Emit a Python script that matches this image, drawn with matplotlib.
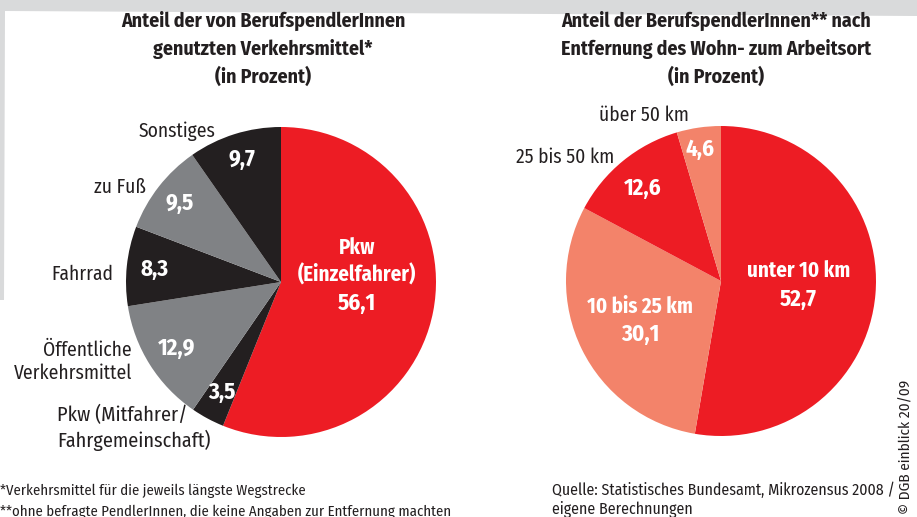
import matplotlib
matplotlib.use("Agg")
import matplotlib.pyplot as plt
import numpy as np
from matplotlib.patches import Polygon

plt.rcParams["font.family"] = ["Fira Sans Condensed", "DejaVu Sans"]

# --- data ---
modes = ["Pkw\n(Einzelfahrer)", "Pkw (Mitfahrer/\nFahrgemeinschaft)", "Öffentliche\nVerkehrsmittel",
         "Fahrrad", "zu Fuß", "Sonstiges"]
mode_share = [56.1, 3.5, 12.9, 8.3, 9.5, 9.7]

distances = ["unter 10 km", "10 bis 25 km", "25 bis 50 km", "über 50 km"]
dist_share = [52.7, 30.1, 12.6, 4.6]

RED = "#ed1c24"
DARK = "#231f20"
GREY = "#808285"
SALMON = "#f3836a"
BAND = "#d9dadb"

W, H = 917, 517
fig = plt.figure(figsize=(W / 100, H / 100), dpi=100)
fig.patch.set_facecolor("white")


def px(x, y):
    return x / W, 1 - y / H


# background band at the top and faded strip on the left
bg = fig.add_axes([0, 0, 1, 1], zorder=-1)
bg.set_xlim(0, W)
bg.set_ylim(H, 0)
bg.axis("off")
bg.add_patch(Polygon([(0, 0), (W, 0), (W, 16), (5, 11), (4, 300), (0, 300)],
                     closed=True, facecolor=BAND, edgecolor="none"))


def fmt(v):
    return f"{v:.1f}".replace(".", ",")


def make_pie(cx, cy, r, values, colors):
    ax = fig.add_axes([(cx - r) / W, (H - cy - r) / H, 2 * r / W, 2 * r / H])
    wedges, _ = ax.pie(values, colors=colors, startangle=90, counterclock=False,
                       radius=1, wedgeprops=dict(linewidth=0))
    ax.set_xlim(-1, 1)
    ax.set_ylim(-1, 1)
    ax.set_aspect("auto")
    ax.axis("off")
    return ax, wedges


def mid_xy(wedge, rad, dang=0.0):
    a = np.deg2rad((wedge.theta1 + wedge.theta2) / 2 + dang)
    return rad * np.cos(a), rad * np.sin(a)


NUM = dict(color="white", fontsize=16.5, fontweight="bold", ha="center", va="center")
WORD = dict(color="white", fontsize=15, fontweight="bold", ha="center", va="center")


def block(ax, xy, lines, step):
    # stack lines around the anchor, last line is the value
    n = len(lines)
    for i, s in enumerate(lines):
        dy = ((n - 1) / 2 - i) * step
        kw = NUM if i == n - 1 else WORD
        ax.annotate(s, xy, xytext=(0, dy), textcoords="offset pixels", **kw)


# --- left pie: Verkehrsmittel ---
ax1, w1 = make_pie(281, 282, 155, mode_share, [RED, DARK, GREY, DARK, GREY, DARK])
block(ax1, mid_xy(w1[0], 0.49, 16), modes[0].split("\n") + [fmt(mode_share[0])], 27.5)
for w, v, rad in zip(w1[1:], mode_share[1:], [0.81, 0.80, 0.82, 0.83, 0.83]):
    ax1.text(*mid_xy(w, rad), fmt(v), **NUM)

lab_kw = dict(color=DARK, fontsize=14, va="center")
fig.text(*px(177, 131), modes[5], ha="center", **lab_kw)
fig.text(*px(120, 187), modes[4], ha="center", **lab_kw)
fig.text(*px(113, 274), modes[3], ha="right", **lab_kw)
fig.text(*px(132, 362), modes[2], ha="right", linespacing=1.25, **lab_kw)
fig.text(*px(57, 428), modes[1], ha="left", linespacing=1.25, fontsize=14.5,
         color=DARK, va="center")

# --- right pie: Entfernung ---
ax2, w2 = make_pie(721, 281, 155, dist_share, [RED, SALMON, RED, SALMON])
block(ax2, mid_xy(w2[0], 0.50, 2), [distances[0], fmt(dist_share[0])], 29)
block(ax2, mid_xy(w2[1], 0.58), [distances[1], fmt(dist_share[1])], 27)
ax2.text(*mid_xy(w2[2], 0.78, 1), fmt(dist_share[2]), **NUM)
ax2.text(*mid_xy(w2[3], 0.86, 1), fmt(dist_share[3]), **NUM)

fig.text(*px(644, 115), distances[3], ha="center", **lab_kw)
fig.text(*px(565, 157), distances[2], ha="center", **lab_kw)

# --- titles ---
title_kw = dict(color=DARK, fontsize=14.3, fontweight="bold", ha="center", va="center",
                linespacing=1.5)
fig.text(*px(263, 49), "Anteil der von BerufspendlerInnen\ngenutzten Verkehrsmittel*\n(in Prozent)",
         **title_kw)
fig.text(*px(716, 49), "Anteil der BerufspendlerInnen** nach\nEntfernung des Wohn- zum Arbeitsort\n(in Prozent)",
         **title_kw)

# --- footnotes ---
fig.text(*px(0, 491), "*Verkehrsmittel für die jeweils längste Wegstrecke",
         color=DARK, fontsize=10.6, ha="left", va="center")
fig.text(*px(0, 512), "**ohne befragte PendlerInnen, die keine Angaben zur Entfernung machten",
         color=DARK, fontsize=10.6, ha="left", va="center")
fig.text(*px(552, 490), "Quelle: Statistisches Bundesamt, Mikrozensus 2008 /",
         color=DARK, fontsize=11.4, ha="left", va="center")
fig.text(*px(552, 509), "eigene Berechnungen",
         color=DARK, fontsize=11.4, ha="left", va="center")
fig.text(*px(906, 514), "© DGB einblick 20/09", color=DARK, fontsize=11, rotation=90,
         ha="center", va="bottom")

fig.savefig("out.png", dpi=100)
